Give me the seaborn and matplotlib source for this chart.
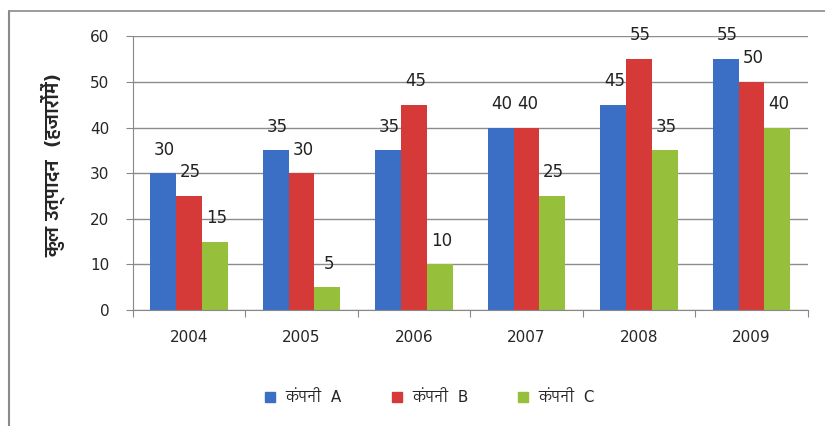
import pandas as pd
import matplotlib.pyplot as plt
import seaborn as sns
from matplotlib import font_manager
from matplotlib.ft2font import FT2Font
from matplotlib.lines import Line2D

# Data
years = ["2004", "2005", "2006", "2007", "2008", "2009"]
company_a = [30, 35, 35, 40, 45, 55]
company_b = [25, 30, 45, 40, 55, 50]
company_c = [15, 5, 10, 25, 35, 40]
series_names = ["कंपनी  A", "कंपनी  B", "कंपनी  C"]
colors = ["#3b6fc6", "#d63a38", "#96c03c"]
ylabel = "कुल उत्पादन  (हजारोंमें)"

# Find fonts with Devanagari glyphs and prefer a proportional sans one
candidates = []
for f in font_manager.fontManager.ttflist:
    try:
        if 0x0915 in FT2Font(f.fname).get_charmap():
            candidates.append(f)
    except Exception:
        pass
candidates.sort(key=lambda f: ("Mono" in f.name, "Serif" in f.name,
                               "Devanagari" not in f.name, f.weight != 400))
deva_family = candidates[0].name if candidates else None

sns.set_style("white")
families = ["DejaVu Sans"] + ([deva_family] if deva_family else [])
plt.rcParams["font.family"] = families

df = pd.DataFrame({
    "year": years * 3,
    "value": company_a + company_b + company_c,
    "company": [series_names[0]] * 6 + [series_names[1]] * 6 + [series_names[2]] * 6,
})

fig = plt.figure(figsize=(8.25, 4.26), dpi=100)
ax = fig.add_axes([0.161, 0.272, 0.818, 0.643])

sns.barplot(data=df, x="year", y="value", hue="company", palette=colors,
            width=0.69, gap=0, saturation=1, ax=ax, legend=True,
            edgecolor="none")

# Value labels above bars
for container in ax.containers:
    for bar in container:
        h = bar.get_height()
        ax.annotate(f"{h:g}", (bar.get_x() + bar.get_width() / 2, h),
                    xytext=(1, 17), textcoords="offset points",
                    ha="center", va="center", fontsize=12, color="#222222")

ax.set_ylim(0, 60)
ax.set_yticks(range(0, 61, 10))
ax.set_xlim(-0.5, 5.5)
ax.set_xticks([i - 0.5 for i in range(7)])
ax.set_xticklabels([])
ax.set_xticks(range(6), minor=True)
ax.set_xticklabels(years, minor=True, fontsize=11)
ax.tick_params(axis="x", which="major", length=5, direction="out", color="#888888", bottom=True)
ax.tick_params(axis="x", which="minor", length=0, pad=14)
ax.tick_params(axis="y", labelsize=11, length=5, direction="out", color="#888888",
               left=True, pad=12)

ax.yaxis.grid(True, color="#8c8c8c", linewidth=1)
ax.set_axisbelow(True)
for side in ["top", "right"]:
    ax.spines[side].set_visible(False)
ax.spines["left"].set_color("#888888")
ax.spines["bottom"].set_color("#888888")

ax.set_xlabel("")
ax.set_ylabel(ylabel, fontsize=13, fontweight="bold", labelpad=12)
ax.yaxis.set_label_coords(-0.1, 0.53)

# Legend below the chart
ax.get_legend().remove()
handles = [Line2D([0], [0], marker="s", linestyle="none", markersize=7,
                  markerfacecolor=c, markeredgecolor=c) for c in colors]
fig.legend(handles, series_names, loc="center", bbox_to_anchor=(0.515, 0.066),
           ncol=3, frameon=False, fontsize=11, handletextpad=0.0,
           columnspacing=2.6)

# Chart frame
fig.add_artist(Line2D([9 / 825, 1], [1 - 11 / 426, 1 - 11 / 426], color="#8a8a8a", linewidth=1.2))
fig.add_artist(Line2D([9 / 825, 9 / 825], [0, 1 - 11 / 426], color="#8a8a8a", linewidth=1.5))

fig.savefig("out.png", dpi=100)
